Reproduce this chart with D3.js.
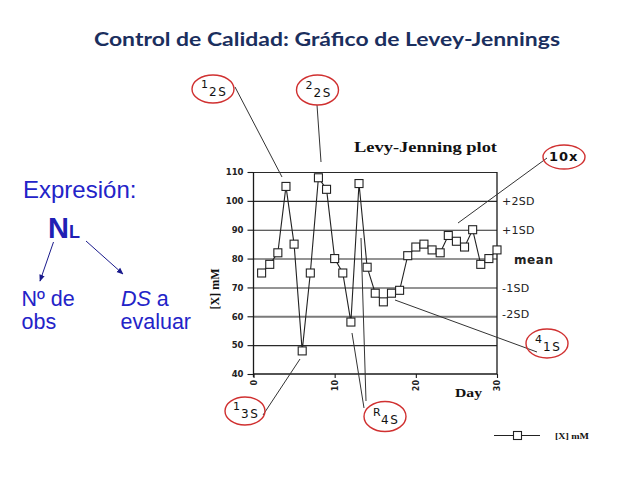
<!DOCTYPE html>
<html><head><meta charset="utf-8">
<script src="https://cdn.jsdelivr.net/npm/d3@7"></script>
<style>
html,body{margin:0;padding:0;background:#fff;}
svg{display:block;}
</style>
</head><body>
<svg id="c" width="638" height="479"></svg>
<script>
// ---- data ----
const days   = [1,2,3,4,5,6,7,8,9,10,11,12,13,14,15,16,17,18,19,20,21,22,23,24,25,26,27,28,29,30];
const values = [75,78,82,105,85,48,75,108,104,80,75,58,106,77,68,65,68,69,81,84,85,83,82,88,86,84,90,78,80,83];
const yTicks = [40,50,60,70,80,90,100,110];
const xTicks = [0,10,20,30];
const sdValues = [100,90,80,70,60];
const sdLabels = ["+2SD","+1SD","mean","-1SD","-2SD"];
const titleText = "Control de Calidad: Gráfico de Levey-Jennings";
const plotTitle = "Levy-Jenning plot";
const yLabel = "[X] mM";
const xLabel = "Day";
const legendLabel = "[X] mM";

// ---- layout ----
const svg = d3.select("#c");
const X0 = 253.5, X1 = 497, Y0 = 374, Y1 = 172;
const x = d3.scaleLinear().domain([0,30]).range([X0, X1]);
const y = d3.scaleLinear().domain([40,110]).range([Y0, Y1]);

// title
svg.append("text").attr("x", 94).attr("y", 45.5)
  .attr("textLength", 466).attr("lengthAdjust","spacingAndGlyphs")
  .style("font-family","Lato, 'Open Sans', sans-serif").style("font-weight","bold")
  .style("font-size","19px").style("fill","#1b2f5e").text(titleText);

// left explanatory text
const blue = "#2323c8";
const sans = "'Liberation Sans', Arial, sans-serif";
svg.append("text").attr("x", 23).attr("y", 198)
  .style("font-family",sans).style("font-size","24px")
  .style("fill", blue).text("Expresión:");
const nl = svg.append("text").attr("x", 48).attr("y", 237.5)
  .style("font-family",sans).style("font-weight","bold")
  .style("fill", "#2020b4");
nl.append("tspan").style("font-size","29px").text("N");
nl.append("tspan").style("font-size","18px").text("L");
svg.append("text").attr("x", 21.5).attr("y", 305.5)
  .style("font-family",sans).style("font-size","21.5px")
  .style("fill", blue).text("Nº de");
svg.append("text").attr("x", 21.5).attr("y", 329)
  .style("font-family",sans).style("font-size","21.5px")
  .style("fill", blue).text("obs");
const ds = svg.append("text").attr("x", 121).attr("y", 305.5)
  .style("font-family",sans).style("font-size","21.5px")
  .style("fill", blue);
ds.append("tspan").style("font-style","italic").text("DS");
ds.append("tspan").text(" a");
svg.append("text").attr("x", 120.5).attr("y", 329)
  .style("font-family",sans).style("font-size","21.5px")
  .style("fill", blue).text("evaluar");

// arrows
const defs = svg.append("defs");
defs.append("marker").attr("id","ah").attr("viewBox","0 0 10 10").attr("refX",9).attr("refY",5)
  .attr("markerWidth",7).attr("markerHeight",7).attr("orient","auto")
  .append("path").attr("d","M0,1 L10,5 L0,9 Z").attr("fill","#1a1a8c");
[[53.5,242,40,281],[86,241,123,274]].forEach(a=>{
  svg.append("line").attr("x1",a[0]).attr("y1",a[1]).attr("x2",a[2]).attr("y2",a[3])
    .attr("stroke","#1a1a8c").attr("stroke-width",1).attr("marker-end","url(#ah)");
});

// plot title
svg.append("text").attr("x", 354).attr("y", 151.5)
  .attr("textLength", 143).attr("lengthAdjust","spacingAndGlyphs")
  .style("font-family","'Liberation Serif', 'DejaVu Serif', serif").style("font-weight","bold")
  .style("font-size","15px").style("fill","#111").text(plotTitle);

// gridlines
const g = svg.append("g");
g.selectAll("line.grid").data(yTicks.filter(v=>v>40)).enter().append("line")
  .attr("x1", X0).attr("x2", X1)
  .attr("y1", d=>y(d)+0.5).attr("y2", d=>y(d)+0.5)
  .attr("stroke", d=> d===60 ? "#7a7a7a" : "#2a2a2a")
  .attr("stroke-width", d=> d===60 ? 2 : 1.1);

// right frame
g.append("line").attr("x1",X1).attr("x2",X1).attr("y1",y(110)).attr("y2",y(40))
  .attr("stroke","#1a1a1a").attr("stroke-width",1.3);

// y axis
const ya = svg.append("g").attr("transform",`translate(${X0},0)`)
  .call(d3.axisLeft(y).tickValues(yTicks).tickSize(6).tickPadding(4).tickFormat(d3.format("d")));
ya.select(".domain").attr("stroke","#1a1a1a").attr("stroke-width",1.3).attr("d",`M0,${Y1}V${Y0+3}`);
ya.selectAll(".tick line").attr("stroke","#1a1a1a").attr("stroke-width",1.1);
ya.selectAll(".tick text").style("font-family","'DejaVu Sans', sans-serif").style("font-weight","bold")
  .style("font-size","8.5px").style("fill","#222");

// x axis
const xa = svg.append("g").attr("transform",`translate(0,${Y0})`)
  .call(d3.axisBottom(x).tickValues(xTicks).tickSize(4).tickFormat(d3.format("d")));
xa.select(".domain").attr("stroke","#1a1a1a").attr("stroke-width",1.3).attr("d",`M${X0},0H${X1}`);
xa.selectAll(".tick line").attr("stroke","#1a1a1a").attr("stroke-width",1.1);
xa.selectAll(".tick text").attr("y",0).attr("dy",null)
  .attr("transform","translate(0,6) rotate(-90)").attr("text-anchor","end")
  .attr("dominant-baseline","central")
  .style("font-family","'DejaVu Sans', sans-serif").style("font-weight","bold")
  .style("font-size","8px").style("fill","#222");

// axis titles
svg.append("text").attr("transform","translate(219,289) rotate(-90)").attr("text-anchor","middle")
  .style("font-family","'Liberation Serif', serif").style("font-weight","bold")
  .style("font-size","12px").style("fill","#111").text(yLabel);
svg.append("text").attr("x",455).attr("y",397)
  .attr("textLength",27).attr("lengthAdjust","spacingAndGlyphs")
  .style("font-family","'Liberation Serif', serif").style("font-weight","bold")
  .style("font-size","13px").style("fill","#111").text(xLabel);

// SD labels
svg.selectAll("text.sd").data(sdValues).enter().append("text")
  .attr("x", (d,i)=> sdLabels[i]==="mean" ? 514 : 502)
  .attr("y", (d,i)=> y(d) + (sdLabels[i]==="-2SD" ? -3 : 0) + 1)
  .attr("dominant-baseline","central")
  .style("font-family","'DejaVu Sans', sans-serif")
  .style("font-weight",(d,i)=> sdLabels[i]==="mean" ? "bold" : "normal")
  .style("font-size",(d,i)=> sdLabels[i]==="mean" ? "12px" : "11px")
  .style("letter-spacing",(d,i)=> sdLabels[i]==="mean" ? "0.6px" : "0.3px")
  .style("fill","#222").text((d,i)=>sdLabels[i]);

// annotations (decorative callouts)
const annotations = [
  {sup:"1", sub:"2S", cx:213,   cy:89,    rx:21, ry:14,   lines:[[235,87,282,177]]},
  {sup:"2", sub:"2S", cx:317.5, cy:90,    rx:21, ry:15,   lines:[[317,105,321,162]]},
  {sup:"",  sub:"10x",cx:564,   cy:157,   rx:21, ry:12,   lines:[[547,158,458,223]]},
  {sup:"4", sub:"1S", cx:547,   cy:343.5, rx:21, ry:14.5, lines:[[537,352,395,300]]},
  {sup:"1", sub:"3S", cx:245,   cy:411,   rx:20, ry:14,   lines:[[263,415,300,359]]},
  {sup:"R", sub:"4S", cx:385,   cy:416.5, rx:21, ry:15,   lines:[[352,333,364,408],[361,238,366,401]]}
];
annotations.forEach(a=>{
  a.lines.forEach(l=>{
    svg.append("line").attr("x1",l[0]).attr("y1",l[1]).attr("x2",l[2]).attr("y2",l[3])
      .attr("stroke","#333").attr("stroke-width",1);
  });
});

// data line and markers
const line = d3.line().x((d,i)=>x(days[i])).y(d=>y(d));
svg.append("path").datum(values).attr("d",line).attr("fill","none")
  .attr("stroke","#222").attr("stroke-width",1.1);
svg.selectAll("rect.pt").data(values).enter().append("rect")
  .attr("x",(d,i)=>x(days[i])-4).attr("y",d=>y(d)-4)
  .attr("width",8).attr("height",8)
  .attr("fill","#fff").attr("stroke","#222").attr("stroke-width",1.1);

// ellipses + labels
annotations.forEach(a=>{
  svg.append("ellipse").attr("cx",a.cx).attr("cy",a.cy).attr("rx",a.rx).attr("ry",a.ry)
    .attr("fill","none").attr("stroke","#d03030").attr("stroke-width",1.4);
  if (a.sup) {
    svg.append("text").attr("x",a.cx-12).attr("y",a.cy-1)
      .style("font-family","'DejaVu Sans', sans-serif").style("font-size","11px").style("fill","#111")
      .text(a.sup);
    svg.append("text").attr("x",a.cx-4).attr("y",a.cy+7)
      .style("font-family","'DejaVu Sans', sans-serif").style("font-size","12px")
      .style("letter-spacing","1.5px").style("fill","#111").text(a.sub);
  } else {
    svg.append("text").attr("x",a.cx-15).attr("y",a.cy+4)
      .style("font-family","'DejaVu Sans', sans-serif").style("font-size","13px").style("font-weight","bold")
      .style("letter-spacing","1px").style("fill","#111").text(a.sub);
  }
});

// legend
svg.append("line").attr("x1",494).attr("x2",540).attr("y1",435.5).attr("y2",435.5)
  .attr("stroke","#222").attr("stroke-width",1.1);
svg.append("rect").attr("x",513.5).attr("y",431.5).attr("width",8).attr("height",8)
  .attr("fill","#fff").attr("stroke","#222").attr("stroke-width",1.1);
svg.append("text").attr("x",555).attr("y",438.5)
  .attr("textLength",34).attr("lengthAdjust","spacingAndGlyphs")
  .style("font-family","'Liberation Serif', serif").style("font-weight","bold")
  .style("font-size","9px").style("fill","#111").text(legendLabel);
</script>
</body></html>
